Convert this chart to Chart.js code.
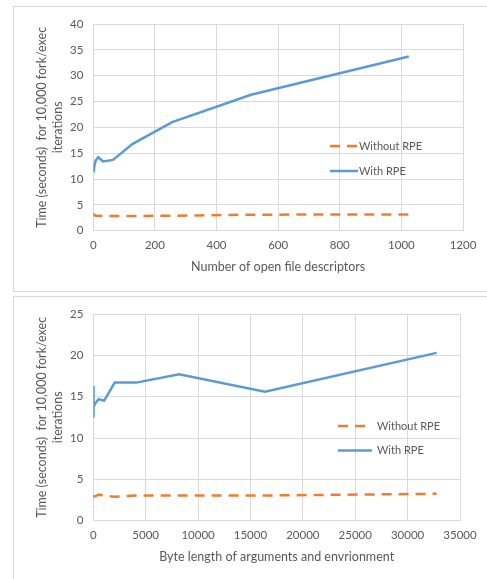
<!DOCTYPE html>
<html>
<head>
<meta charset="utf-8">
<script src="https://cdn.jsdelivr.net/npm/chart.js@4.4.1/dist/chart.umd.min.js"></script>
<style>
  html, body { margin: 0; padding: 0; background: #fff; overflow: hidden; }
  body { width: 487px; height: 579px; position: relative; }
  .panel { position: absolute; border: 1px solid #d9d9d9; background: #fff; }
  .box { position: absolute; width: 480px; height: 283px; }
</style>
</head>
<body>
<div class="panel" style="left:13px; top:6px; width:500px; height:284px;"></div>
<div class="panel" style="left:13px; top:296px; width:500px; height:300px;"></div>
<div class="box" style="left:14px; top:7px;"><canvas id="fdChart"></canvas></div>
<div class="box" style="left:14px; top:297px;"><canvas id="argChart"></canvas></div>
<script>
/* =========================
   DATA
========================= */
const fdCounts = [1, 2, 4, 8, 16, 32, 64, 128, 256, 512, 1024];
const fdWithout = [3.35, 3.2, 3.0, 2.9, 2.9, 2.85, 2.85, 2.85, 2.9, 3.1, 3.15];
const fdWith = [11.5, 11.8, 12.7, 13.6, 14.2, 13.4, 13.7, 16.8, 21.0, 26.3, 33.7];

const byteLengths = [1, 2, 4, 8, 16, 32, 64, 128, 256, 512, 1024, 2048, 4096, 8192, 16384, 32768];
const argWithout = [2.9, 2.9, 2.9, 2.9, 2.9, 2.9, 2.95, 2.95, 3.0, 3.15, 3.05, 2.9, 3.05, 3.05, 3.05, 3.25];
const argWith = [12.6, 16.3, 13.5, 16.0, 12.8, 15.5, 13.8, 14.0, 14.3, 14.7, 14.5, 16.7, 16.7, 17.7, 15.6, 20.3];

const seriesNames = ["Without RPE", "With RPE"];
const yTitle = ["Time (seconds)  for 10,000 fork/exec", "iterations"];

/* =========================
   STYLE
========================= */
const ORANGE = "#ED7D31";
const BLUE = "#5B9BD5";
const GRID = "#d9d9d9";
const TEXT = "#595959";
const FAMILY = "Lato, 'Open Sans', sans-serif";
const TICK_FONT = { family: FAMILY, size: 11.5 };
const TITLE_FONT = { family: FAMILY, size: 12.5, lineHeight: 1.3 };
const LEGEND_FONT = "11px " + FAMILY;

// draws the legend inside the plot, like the Excel one
const insideLegend = {
  id: "insideLegend",
  afterDraw(chart, args, opts) {
    const ctx = chart.ctx;
    ctx.save();
    chart.data.datasets.forEach((ds, i) => {
      const y = opts.y[i];
      ctx.strokeStyle = ds.borderColor;
      ctx.lineWidth = ds.borderWidth;
      ctx.setLineDash(ds.borderDash || []);
      ctx.beginPath();
      ctx.moveTo(opts.x, y);
      ctx.lineTo(opts.x + opts.len, y);
      ctx.stroke();
      ctx.setLineDash([]);
      ctx.fillStyle = TEXT;
      ctx.font = LEGEND_FONT;
      ctx.textBaseline = "middle";
      ctx.fillText(ds.label, opts.x + opts.len + opts.gap, y);
    });
    ctx.restore();
  }
};

function makeChart(id, xs, without, withRpe, xMax, xStep, yMax, xLabel, legend) {
  return new Chart(document.getElementById(id), {
    type: "line",
    data: {
      labels: xs,
      datasets: [{
        label: seriesNames[0],
        data: xs.map((x, i) => ({ x: x, y: without[i] })),
        borderColor: ORANGE,
        borderWidth: 2.5,
        borderDash: [10, 7],
        pointRadius: 0,
        tension: 0
      }, {
        label: seriesNames[1],
        data: xs.map((x, i) => ({ x: x, y: withRpe[i] })),
        borderColor: BLUE,
        borderWidth: 2.5,
        pointRadius: 0,
        tension: 0
      }]
    },
    options: {
      responsive: true,
      maintainAspectRatio: false,
      animation: false,
      layout: { padding: { top: 17, right: legend.right, left: 0, bottom: 0 } },
      plugins: {
        legend: { display: false },
        tooltip: { enabled: false },
        insideLegend: legend
      },
      scales: {
        x: {
          type: "linear",
          min: 0,
          max: xMax,
          border: { display: false },
          grid: { color: GRID, lineWidth: 1, drawTicks: false },
          ticks: { stepSize: xStep, color: TEXT, font: TICK_FONT, padding: 8, maxRotation: 0,
                   callback: v => String(v) },
          title: { display: true, text: xLabel, color: TEXT, font: TITLE_FONT, padding: { top: 0, bottom: 15 } },
          afterFit(scale) { scale.height = 283 - 223.7; }
        },
        y: {
          min: 0,
          max: yMax,
          border: { display: false },
          grid: { color: GRID, lineWidth: 1, drawTicks: false },
          ticks: { stepSize: 5, color: TEXT, font: TICK_FONT, padding: 10, callback: v => String(v) },
          title: { display: true, text: yTitle, color: TEXT, font: TITLE_FONT, padding: { top: 20, bottom: 0 } },
          afterFit(scale) { scale.width = 79.3; }
        }
      }
    },
    plugins: [insideLegend]
  });
}

/* =========================
   CHARTS
========================= */
makeChart("fdChart", fdCounts, fdWithout, fdWith, 1200, 200, 40,
  "Number of open file descriptors",
  { x: 316, len: 28, gap: 1, y: [139, 164], right: 31 });

makeChart("argChart", byteLengths, argWithout, argWith, 35000, 5000, 25,
  "Byte length of arguments and envrionment",
  { x: 324, len: 34, gap: 5, y: [129, 153.5], right: 34 });
</script>
</body>
</html>
